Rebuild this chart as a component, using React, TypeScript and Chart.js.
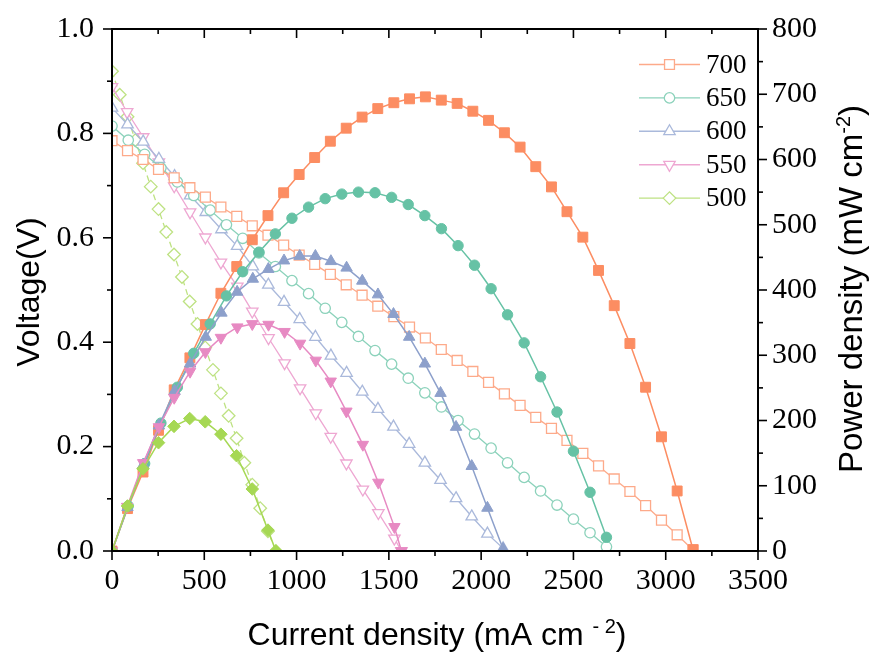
import React, { useEffect, useRef } from 'react';
import { Chart, registerables } from 'chart.js';

Chart.register(...registerables);

// ---------- data ----------
const seriesNames = ['700', '650', '600', '550', '500'];

// 700
const i700 = [0, 84, 168, 252, 337, 422, 506, 590, 676, 760, 845, 930, 1014, 1098, 1183, 1269, 1355, 1440, 1527, 1612, 1698, 1784, 1870, 1955, 2040, 2126, 2211, 2296, 2381, 2465, 2551, 2636, 2721, 2806, 2891, 2977, 3062, 3148];
const v700 = [0.786, 0.767, 0.750, 0.731, 0.715, 0.696, 0.678, 0.659, 0.641, 0.623, 0.605, 0.586, 0.567, 0.549, 0.530, 0.510, 0.490, 0.469, 0.449, 0.429, 0.408, 0.386, 0.365, 0.344, 0.323, 0.301, 0.279, 0.256, 0.235, 0.212, 0.187, 0.163, 0.138, 0.114, 0.087, 0.059, 0.031, 0.002];
const p700 = [0, 65, 121, 185, 247, 296, 347, 395, 436, 477, 514, 549, 577, 603, 628, 648, 665, 678, 687, 693, 696, 691, 686, 674, 660, 641, 619, 589, 558, 520, 481, 430, 376, 318, 251, 175, 92, 2];

// 650
const i650 = [0, 88, 177, 265, 354, 443, 532, 620, 708, 796, 885, 975, 1065, 1155, 1245, 1335, 1425, 1515, 1605, 1695, 1785, 1875, 1964, 2054, 2143, 2233, 2322, 2411, 2500, 2590, 2679];
const v650 = [0.814, 0.787, 0.760, 0.734, 0.707, 0.681, 0.653, 0.625, 0.599, 0.571, 0.545, 0.518, 0.493, 0.465, 0.438, 0.411, 0.384, 0.358, 0.331, 0.303, 0.276, 0.250, 0.224, 0.197, 0.169, 0.141, 0.115, 0.088, 0.061, 0.035, 0.008];
const p650 = [0, 69, 134, 196, 251, 303, 348, 391, 428, 458, 486, 510, 527, 540, 547, 550, 549, 542, 531, 514, 494, 468, 438, 402, 362, 319, 267, 213, 153, 90, 21];

// 600
const i600 = [0, 84, 169, 254, 339, 423, 508, 593, 678, 763, 847, 932, 1017, 1102, 1186, 1271, 1356, 1441, 1525, 1610, 1695, 1780, 1864, 1949, 2034, 2119];
const v600 = [0.849, 0.817, 0.784, 0.751, 0.718, 0.681, 0.649, 0.616, 0.584, 0.545, 0.510, 0.477, 0.444, 0.410, 0.374, 0.341, 0.305, 0.272, 0.238, 0.205, 0.169, 0.136, 0.101, 0.066, 0.033, 0.005];
const p600 = [0, 67, 132, 192, 245, 287, 328, 365, 397, 417, 432, 445, 452, 452, 444, 434, 414, 393, 363, 328, 287, 242, 190, 130, 66, 3];

// 550
const i550 = [0, 82, 169, 254, 337, 423, 506, 590, 679, 760, 848, 935, 1019, 1104, 1185, 1270, 1359, 1443, 1530, 1568];
const v550 = [0.889, 0.841, 0.793, 0.745, 0.699, 0.649, 0.601, 0.553, 0.507, 0.459, 0.408, 0.360, 0.312, 0.264, 0.219, 0.168, 0.118, 0.073, 0.024, 0.0];
const p550 = [0, 68, 135, 190, 235, 275, 305, 327, 343, 348, 347, 336, 318, 292, 260, 214, 163, 105, 37, 0];

// 500
const i500v = [0, 42, 84, 126, 168, 210, 252, 294, 336, 379, 421, 463, 505, 547, 590, 632, 675, 717, 760, 803, 845, 888];
const v500 = [0.919, 0.874, 0.832, 0.787, 0.743, 0.698, 0.655, 0.611, 0.568, 0.525, 0.478, 0.435, 0.390, 0.347, 0.302, 0.259, 0.216, 0.169, 0.127, 0.082, 0.038, 0.0];
const i500p = [0, 84, 168, 252, 336, 421, 505, 590, 675, 760, 845, 888];
const p500 = [0, 69, 126, 166, 191, 203, 198, 179, 146, 95, 32, 0];

// axis ranges / ticks
const xRange = [0, 3500];
const xMajor = 500;
const xMinor = 250;
const vRange = [0, 1.0];
const vMajor = 0.2;
const vMinor = 0.1;
const pRange = [0, 800];
const pMajor = 100;
const pMinor = 50;

// ---------- styles ----------
const solid = ['#FC8D62', '#66C2A5', '#8DA0CB', '#E78AC3', '#A6D854'];
const pale = ['#FDAA8A', '#8CD2BB', '#AAB9DB', '#EEA7D2', '#BEE283'];
const shapes = ['rect', 'circle', 'triangle', 'triangle', 'rectRot'];
const rotations = [0, 0, 0, 180, 0];
const radii = [7, 5.2, 6.6, 6.6, 6.3];

const zip = (xs: number[], ys: number[]) => xs.map((x, k) => ({ x, y: ys[k] }));

const SERIF = '"Liberation Serif", "Times New Roman", serif';
const SANS = '"Liberation Sans", Arial, sans-serif';

function drawMarker(ctx: CanvasRenderingContext2D, style: string, x: number, y: number, r: number, rotDeg: number) {
  ctx.beginPath();
  if (style === 'rect') {
    const s = Math.SQRT1_2 * r;
    ctx.rect(x - s, y - s, 2 * s, 2 * s);
  } else if (style === 'circle') {
    ctx.arc(x, y, r, 0, Math.PI * 2);
  } else if (style === 'triangle') {
    let rad = (rotDeg * Math.PI) / 180;
    ctx.moveTo(x + Math.sin(rad) * r, y - Math.cos(rad) * r);
    rad += (2 * Math.PI) / 3;
    ctx.lineTo(x + Math.sin(rad) * r, y - Math.cos(rad) * r);
    rad += (2 * Math.PI) / 3;
    ctx.lineTo(x + Math.sin(rad) * r, y - Math.cos(rad) * r);
  } else {
    ctx.moveTo(x - r, y);
    ctx.lineTo(x, y - r);
    ctx.lineTo(x + r, y);
    ctx.lineTo(x, y + r);
  }
  ctx.closePath();
  ctx.fill();
  ctx.stroke();
}

const framePlugin = {
  id: 'frameAndTitles',
  afterDraw(chart: any) {
    const { ctx, chartArea: a, scales } = chart;
    const sx = scales.x;
    const sy = scales.y;
    const sp = scales.y2;
    ctx.save();
    ctx.strokeStyle = '#000';
    ctx.lineCap = 'butt';
    const seg = (x1: number, y1: number, x2: number, y2: number) => {
      ctx.beginPath();
      ctx.moveTo(x1, y1);
      ctx.lineTo(x2, y2);
      ctx.stroke();
    };
    ctx.lineWidth = 1.6;
    // x ticks: bottom outward, top inward
    for (let v = xRange[0]; v <= xRange[1] + 1e-6; v += xMinor) {
      const px = sx.getPixelForValue(v);
      const len = Math.abs(v % xMajor) < 1e-6 ? 9 : 5;
      seg(px, a.bottom, px, a.bottom + len);
      seg(px, a.top, px, a.top + len);
    }
    // left ticks outward
    for (let k = 0; k <= Math.round((vRange[1] - vRange[0]) / vMinor); k++) {
      const v = vRange[0] + k * vMinor;
      const py = sy.getPixelForValue(v);
      const len = k % 2 === 0 ? 9 : 5;
      seg(a.left, py, a.left - len, py);
    }
    // right ticks outward
    for (let v = pRange[0]; v <= pRange[1] + 1e-6; v += pMinor) {
      const py = sp.getPixelForValue(v);
      const len = Math.abs(v % pMajor) < 1e-6 ? 9 : 5;
      seg(a.right, py, a.right + len, py);
    }
    // frame
    ctx.lineWidth = 2;
    ctx.strokeRect(a.left, a.top, a.right - a.left, a.bottom - a.top);

    // legend
    const ly0 = 64.5;
    const ldy = 33.4;
    for (let k = 0; k < seriesNames.length; k++) {
      const y = ly0 + k * ldy;
      ctx.strokeStyle = pale[k];
      ctx.lineWidth = 1.4;
      seg(639, y, 700, y);
      ctx.fillStyle = '#fff';
      ctx.lineWidth = 1.3;
      drawMarker(ctx, shapes[k], 669.5, y, radii[k], rotations[k]);
      ctx.fillStyle = '#000';
      ctx.font = `27px ${SERIF}`;
      ctx.textAlign = 'left';
      ctx.textBaseline = 'middle';
      ctx.fillText(seriesNames[k], 706, y + 1);
    }

    // titles with superscripts
    const drawWithSup = (parts: { t: string; sup?: boolean }[], size: number, cx: number, baseY: number) => {
      const supSize = Math.round(size * 0.62);
      let total = 0;
      const widths = parts.map((p) => {
        ctx.font = `${p.sup ? supSize : size}px ${SANS}`;
        const w = ctx.measureText(p.t).width;
        total += w;
        return w;
      });
      let x = cx - total / 2;
      ctx.textAlign = 'left';
      ctx.textBaseline = 'alphabetic';
      parts.forEach((p, k) => {
        ctx.font = `${p.sup ? supSize : size}px ${SANS}`;
        ctx.fillText(p.t, x, p.sup ? baseY - size * 0.36 : baseY);
        x += widths[k];
      });
    };
    ctx.fillStyle = '#000';
    // x title
    drawWithSup([{ t: 'Current density (mA cm ' }, { t: '- 2', sup: true }, { t: ')' }], 32, 437, 645);
    // left title
    ctx.save();
    ctx.translate(39, 292);
    ctx.rotate(-Math.PI / 2);
    drawWithSup([{ t: 'Voltage(V)' }], 32, 0, 0);
    ctx.restore();
    // right title
    ctx.save();
    ctx.translate(862, 289);
    ctx.rotate(-Math.PI / 2);
    drawWithSup([{ t: 'Power density (mW cm' }, { t: '-2', sup: true }, { t: ')' }], 33, 0, 0);
    ctx.restore();

    ctx.restore();
  },
};

export default function App() {
  const ref = useRef<HTMLCanvasElement | null>(null);

  useEffect(() => {
    document.body.style.margin = '0';
    const canvas = ref.current;
    if (!canvas) return;

    const powerSets = [
      { i: i700, y: p700, k: 0 },
      { i: i650, y: p650, k: 1 },
      { i: i600, y: p600, k: 2 },
      { i: i550, y: p550, k: 3 },
      { i: i500p, y: p500, k: 4 },
    ];
    const voltSets = [
      { i: i700, y: v700, k: 0 },
      { i: i650, y: v650, k: 1 },
      { i: i600, y: v600, k: 2 },
      { i: i550, y: v550, k: 3 },
      { i: i500v, y: v500, k: 4 },
    ];

    const datasets: any[] = [];
    powerSets.forEach((s) => {
      datasets.push({
        label: `P ${seriesNames[s.k]}`,
        data: zip(s.i, s.y),
        yAxisID: 'y2',
        borderColor: solid[s.k],
        backgroundColor: solid[s.k],
        borderWidth: 1.5,
        pointStyle: shapes[s.k],
        pointRotation: rotations[s.k],
        pointRadius: radii[s.k],
        pointBorderWidth: 1,
        pointBorderColor: solid[s.k],
        pointBackgroundColor: solid[s.k],
        tension: 0,
        order: 4 - s.k,
      });
    });
    voltSets.forEach((s) => {
      datasets.push({
        label: `V ${seriesNames[s.k]}`,
        data: zip(s.i, s.y),
        yAxisID: 'y',
        borderColor: pale[s.k],
        backgroundColor: '#ffffff',
        borderWidth: 1.3,
        borderDash: s.k === 4 ? [6, 4] : [],
        pointStyle: shapes[s.k],
        pointRotation: rotations[s.k],
        pointRadius: radii[s.k],
        pointBorderWidth: 1.3,
        pointBorderColor: pale[s.k],
        pointBackgroundColor: '#ffffff',
        tension: 0,
        order: 10 + s.k,
      });
    });

    const tickFont = { family: SERIF, size: 30 };
    const fitVertical = (w: number) => (s: any) => {
      s.width = w;
      s.paddingTop = 0;
      s.paddingBottom = 0;
    };
    const chart = new Chart(canvas, {
      type: 'line',
      data: { datasets },
      options: {
        responsive: false,
        animation: false,
        devicePixelRatio: 1,
        layout: { padding: { top: 29, left: 0, right: 0, bottom: 0 } },
        plugins: { legend: { display: false }, tooltip: { enabled: false } },
        scales: {
          x: {
            type: 'linear',
            min: xRange[0],
            max: xRange[1],
            ticks: { stepSize: xMajor, font: tickFont, color: '#000', padding: 12, maxRotation: 0, autoSkip: false, callback: (v: any) => String(v) },
            grid: { display: false, drawTicks: false },
            border: { display: false },
            afterFit: (s: any) => { s.height = 106; s.paddingLeft = 0; s.paddingRight = 0; },
          },
          y: {
            type: 'linear',
            position: 'left',
            min: vRange[0],
            max: vRange[1],
            ticks: { stepSize: vMajor, font: tickFont, color: '#000', padding: 18, callback: (v: any) => Number(v).toFixed(1) },
            grid: { display: false, drawTicks: false },
            border: { display: false },
            afterFit: fitVertical(112),
          },
          y2: {
            type: 'linear',
            position: 'right',
            min: pRange[0],
            max: pRange[1],
            ticks: { stepSize: pMajor, font: tickFont, color: '#000', padding: 14, callback: (v: any) => String(v) },
            grid: { display: false, drawTicks: false },
            border: { display: false },
            afterFit: fitVertical(114),
          },
        },
      } as any,
      plugins: [framePlugin],
    });
    return () => chart.destroy();
  }, []);

  return <canvas ref={ref} width={872} height={657} style={{ display: 'block' }} />;
}
